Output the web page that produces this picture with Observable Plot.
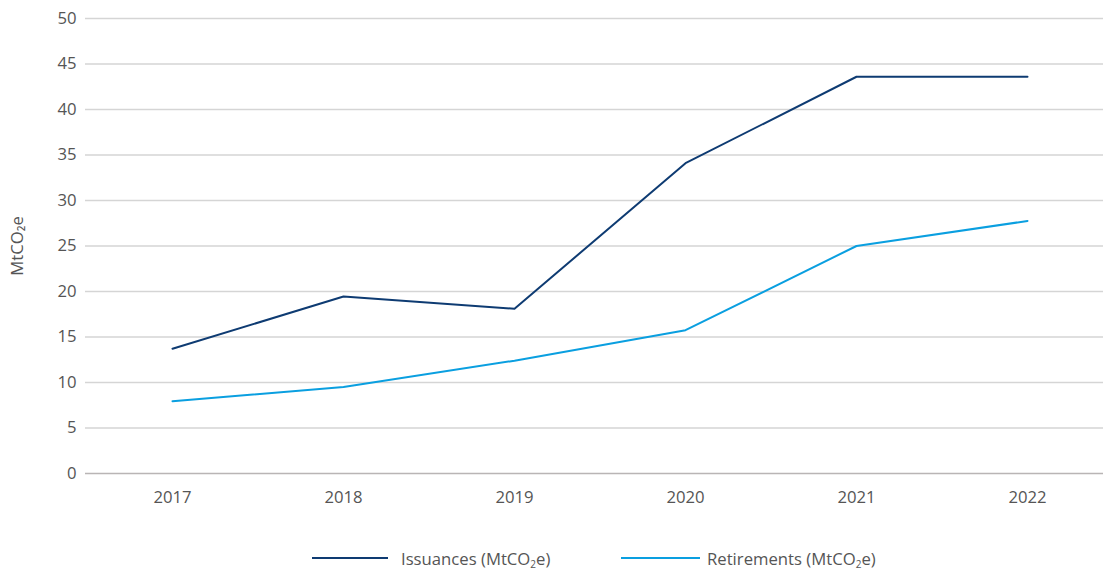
<!DOCTYPE html>
<html><head><meta charset="utf-8">
<script src="https://cdn.jsdelivr.net/npm/d3@7"></script>
<script src="https://cdn.jsdelivr.net/npm/@observablehq/plot@0.6"></script>
<style>
body{margin:0;background:#fff;font-family:"Open Sans",sans-serif;}
#legend{position:relative;height:40px;font-size:16.7px;color:#555;width:1103px}
.item{position:absolute;top:8px;display:flex;align-items:center;height:40px;white-space:nowrap}
.sw{display:inline-block;height:2px;margin-right:13px}
sub{font-size:10px;vertical-align:-3px;line-height:0}
</style></head><body><div id="chart"></div><div id="legend"></div>
<script>
const years = ["2017","2018","2019","2020","2021","2022"];
const issuances = [13.7, 19.45, 18.1, 34.1, 43.6, 43.6];
const retirements = [7.95, 9.5, 12.4, 15.75, 25.0, 27.75];
const seriesNames = ["Issuances (MtCO₂e)", "Retirements (MtCO₂e)"];
const seriesColors = ["#0e3b72", "#0a9fe0"];
const yTicks = [0,5,10,15,20,25,30,35,40,45,50];

const data = years.flatMap((y,i)=>[
  {year:y, series:seriesNames[0], value:issuances[i]},
  {year:y, series:seriesNames[1], value:retirements[i]}
]);

const chart = Plot.plot({
  width:1103, height:530, marginTop:18, marginBottom:57, marginLeft:85, marginRight:0,
  style:{fontFamily:"Open Sans", fontSize:"16.7px", color:"#555", background:"#fff", overflow:"visible"},
  x:{type:"point", domain:years, range:[170,1029], padding:0},
  y:{domain:[0,50]},
  color:{domain:seriesNames, range:seriesColors},
  marks:[
    Plot.ruleY(yTicks.filter(d=>d>0), {stroke:"#d5d5d5", strokeWidth:1.3}),
    Plot.ruleY([0], {stroke:"#b9b5b5", strokeWidth:1.6}),
    Plot.axisY({ticks:yTicks, tickSize:0, tickPadding:9, label:null, fill:"#555"}),
    Plot.axisX({tickSize:0, tickPadding:18, label:null, fill:"#555"}),
    Plot.text(["MtCO₂e"], {frameAnchor:"left", dx:-68, rotate:-90, textAnchor:"middle", fill:"#555", fontSize:16.7}),
    Plot.line(data, {x:"year", y:"value", stroke:"series", strokeWidth:2})
  ]
});
document.getElementById("chart").appendChild(chart);

const legend = document.getElementById("legend");
const lefts = [312, 621];
const swW = [76, 79];
const gaps = [13, 7];
seriesNames.forEach((name,i)=>{
  const it = document.createElement("div");
  it.className = "item";
  it.style.left = lefts[i] + "px";
  const sw = document.createElement("span");
  sw.className = "sw";
  sw.style.width = swW[i] + "px";
  sw.style.marginRight = gaps[i] + "px";
  sw.style.background = seriesColors[i];
  const tx = document.createElement("span");
  tx.innerHTML = name.replace("₂", "<sub>2</sub>");
  it.appendChild(sw); it.appendChild(tx);
  legend.appendChild(it);
});
</script></body></html>
